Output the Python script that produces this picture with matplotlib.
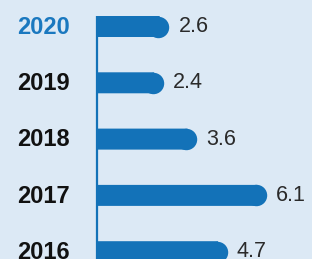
import matplotlib
matplotlib.use('Agg')
import matplotlib.pyplot as plt

years = ["2020", "2019", "2018", "2017", "2016"]
values = [2.6, 2.4, 3.6, 6.1, 4.7]
value_labels = ["2.6", "2.4", "3.6", "6.1", "4.7"]

BG = '#dce9f5'
BAR = '#1372b8'
HILITE = '#1a78bf'

plt.rcParams['font.family'] = ['Liberation Sans', 'DejaVu Sans']

W, H = 312, 259
fig = plt.figure(figsize=(W / 100, H / 100), dpi=100, facecolor=BG)
x0 = 96.5
ax = fig.add_axes([x0 / W, 0, 1 - x0 / W, 1])
ax.set_facecolor(BG)

px_per_unit = 27.8
row_px = 56.3
top_px = 26.5
ax.set_xlim(0, (W - x0) / px_per_unit)
ax.set_ylim((H - top_px) / row_px, -top_px / row_px)

bar_h = 21 / row_px
r = 10.5 / px_per_unit  # rounded end radius in data units
ypos = list(range(len(years)))

for y, v, lab, yr in zip(ypos, values, value_labels, years):
    ax.barh(y, v - r + 0.05, height=bar_h, color=BAR, lw=0, snap=False)
    ax.plot(v - r, y, 'o', ms=21 * 0.72 + 0.3, color=BAR, mew=0)
    ax.annotate(lab, (v, y), xytext=(7, 0), textcoords='offset points',
                ha='left', va='center', fontsize=15.5, color='#2a2a2a')
    ax.annotate(yr, (0, y), xytext=(-19, -0.5), textcoords='offset points',
                ha='right', va='center', fontsize=17, fontweight='bold',
                color=HILITE if yr == "2020" else '#111111',
                annotation_clip=False)

# vertical axis line starting at the top bar
ax.plot([0, 0], [-bar_h / 2, (H - top_px) / row_px], color=BAR, lw=1.6,
        solid_capstyle='butt', clip_on=False)

ax.axis('off')
fig.savefig('out.png', dpi=100, facecolor=BG)
